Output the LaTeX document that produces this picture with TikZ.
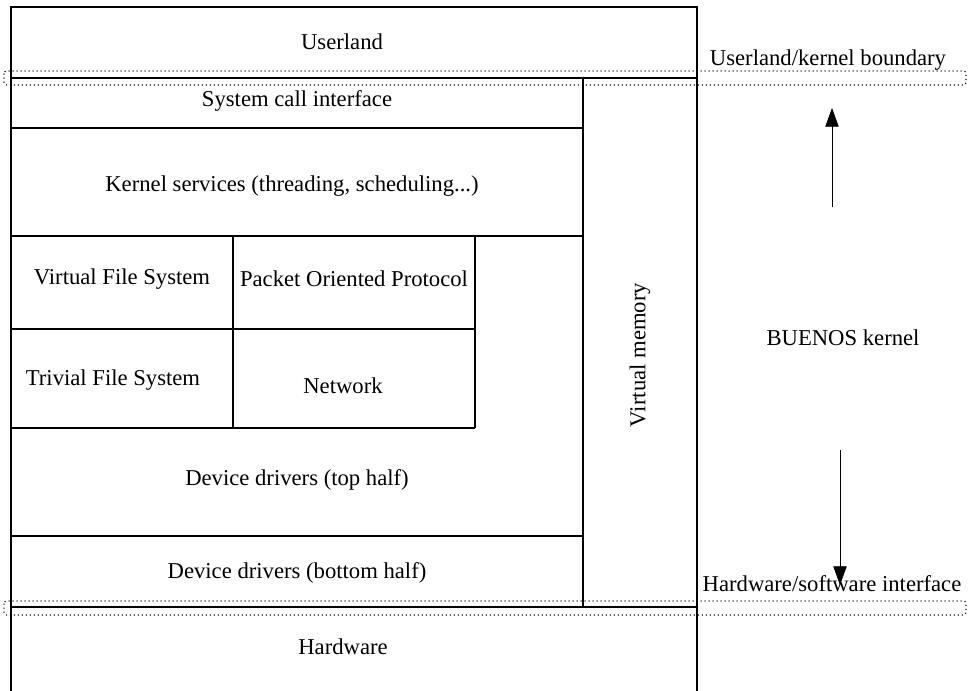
\documentclass[tikz,border=0pt]{standalone}
\usepackage{fontspec}
\setmainfont{Liberation Serif}
\usetikzlibrary{arrows.meta}

\begin{document}
\begin{tikzpicture}[x=0.75pt,y=-0.75pt,
	layer/.style={line width=0.8pt},
	boundary/.style={line width=0.8pt,dash pattern=on 0.8pt off 2.2pt,rounded corners=2pt},
	lbl/.style={font=\fontsize{17}{20}\selectfont,inner sep=0pt},
	flow/.style={line width=0.6pt,-{Triangle[length=14pt,width=10pt]}}]
\useasboundingbox (0,0) rectangle (969,690);
\clip (0,0) rectangle (969,690);
% layers
\draw[layer] (11,700) -- (11,7) -- (697,7) -- (697,700);
\draw[layer] (11,78) -- (697,78);
\draw[layer] (11,128) -- (583,128);
\draw[layer] (11,236) -- (583,236);
\draw[layer] (11,329) -- (475,329);
\draw[layer] (11,428) -- (475,428);
\draw[layer] (233,236) -- (233,428);
\draw[layer] (475,236) -- (475,428);
\draw[layer] (11,536) -- (583,536);
\draw[layer] (583,78) -- (583,607);
\draw[layer] (11,607) -- (697,607);
% boundaries
\draw[boundary] (4,71) rectangle (966,85);
\draw[boundary] (4,601) rectangle (966,615);
% labels
\node[lbl] (userland) at (342,42) {Userland};
\node[lbl] (ukb) at (828,60) {Userland/kernel boundary};
\node[lbl] (syscall) at (297,101) {System call interface};
\node[lbl] (services) at (292,186) {Kernel services (threading, scheduling...)};
\node[lbl] (vfs) at (122,279) {Virtual File System};
\node[lbl] (pop) at (354,279) {Packet Oriented Protocol};
\node[lbl] (tfs) at (113,380) {Trivial File System};
\node[lbl] (network) at (343,386) {Network};
\node[lbl] (ddtop) at (297,480) {Device drivers (top half)};
\node[lbl] (ddbottom) at (297,573) {Device drivers (bottom half)};
\node[lbl,rotate=90] (vm) at (640,355) {Virtual memory};
\node[lbl] (buenos) at (843,338) {BUENOS kernel};
\node[lbl] (hsi) at (832,584) {Hardware/software interface};
\node[lbl] (hardware) at (343,647) {Hardware};
% directions
\coordinate (upfrom) at (832,207);
\coordinate (upto) at (832,108);
\coordinate (downfrom) at (840,450);
\coordinate (downto) at (840,585);
\draw[flow] (upfrom) -- (upto);
\draw[flow] (downfrom) -- (downto);
\end{tikzpicture}
\end{document}
